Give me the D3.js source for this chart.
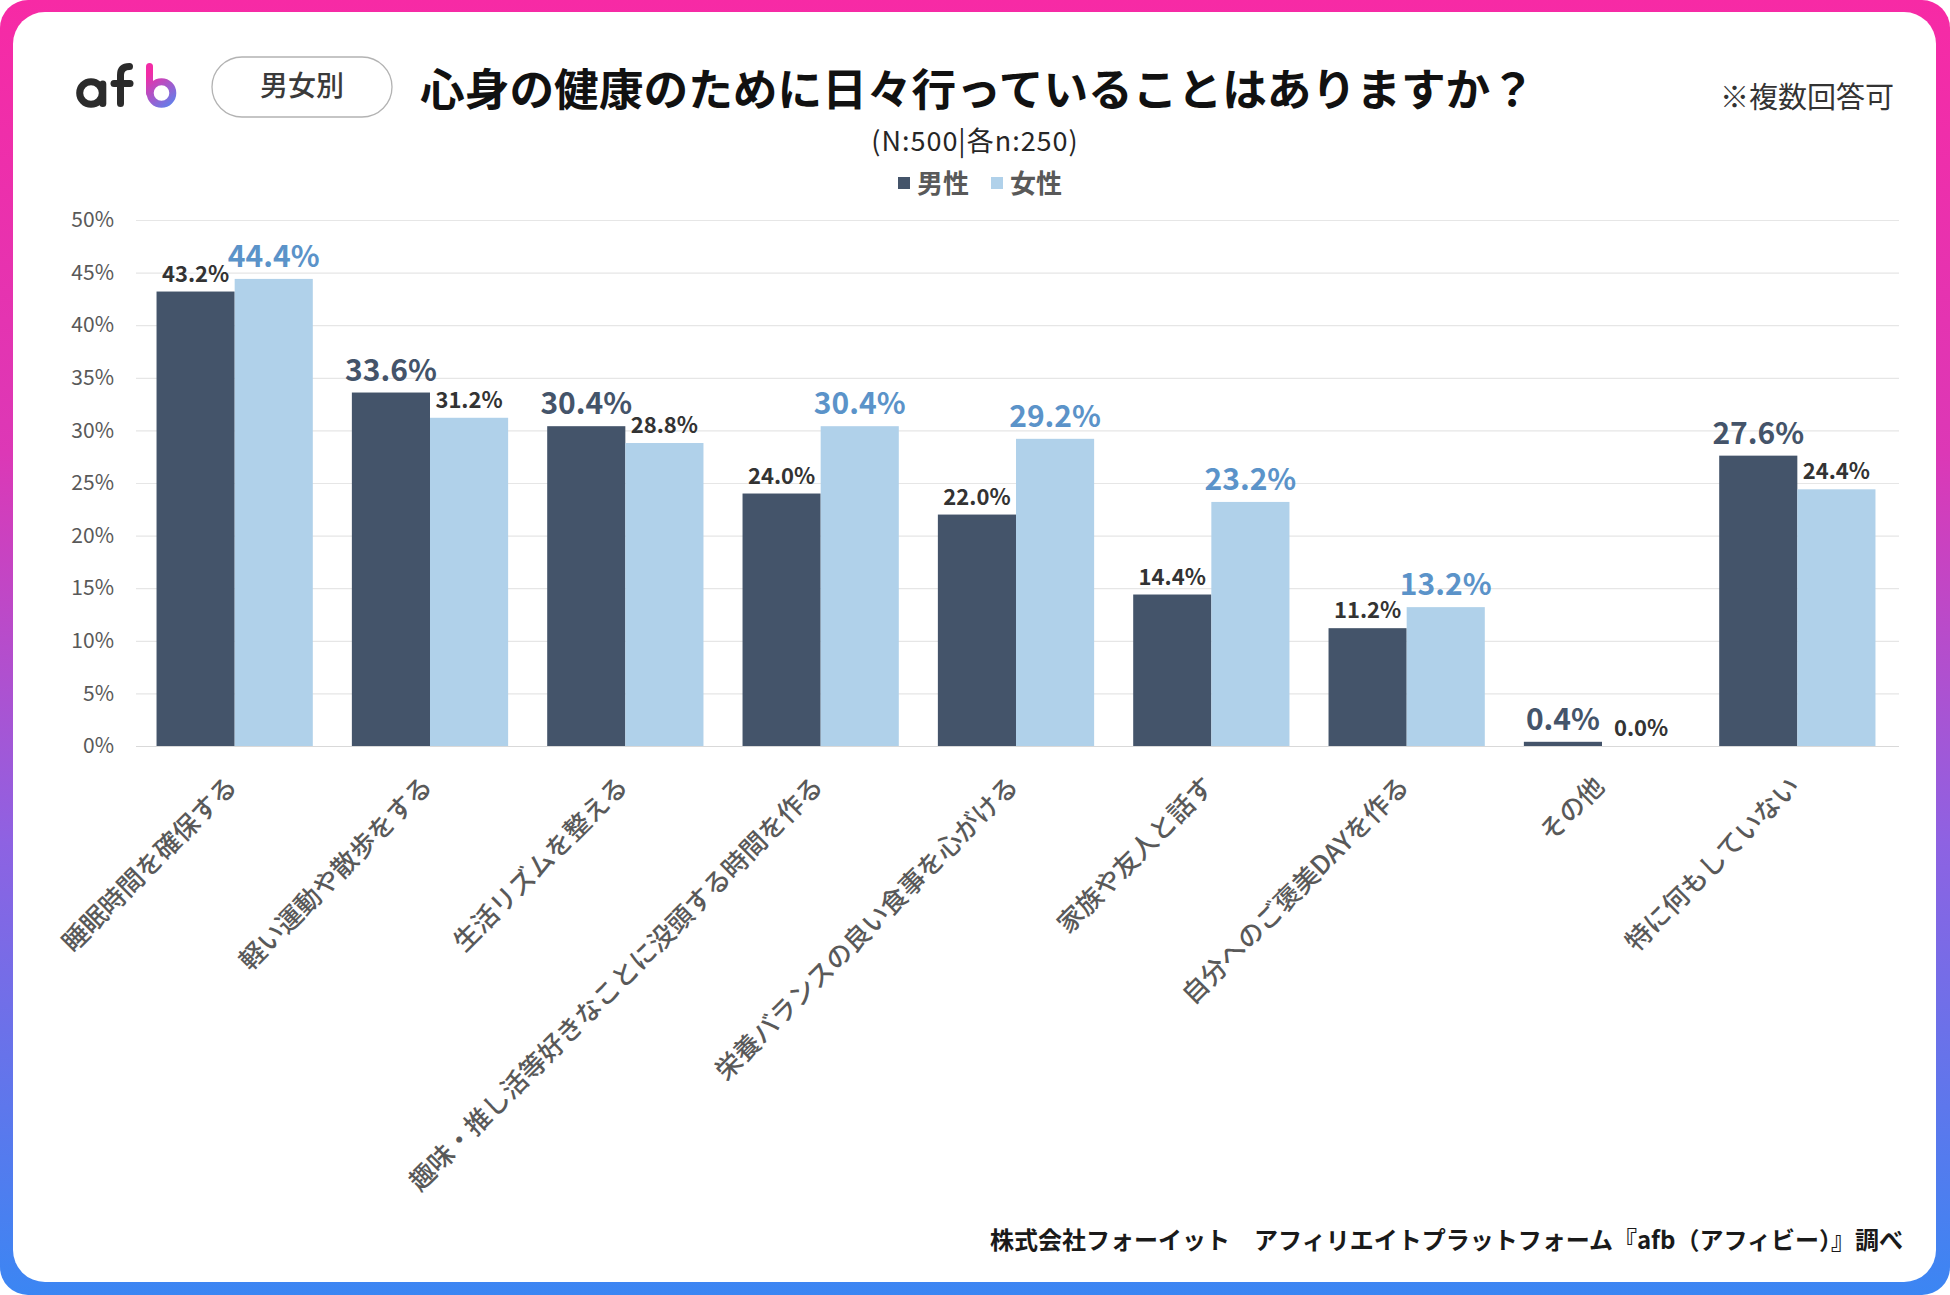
<!DOCTYPE html>
<html>
<head>
<meta charset="utf-8">
<script src="https://cdn.jsdelivr.net/npm/d3@7"></script>
<style>
  html, body { margin: 0; padding: 0; background: #fff; }
  svg { display: block; }
  text { font-family: "Noto Sans CJK JP", "Noto Sans", sans-serif; }
</style>
</head>
<body>
<div id="chart"></div>
<script>
// data
const categories = [
  "睡眠時間を確保する",
  "軽い運動や散歩をする",
  "生活リズムを整える",
  "趣味・推し活等好きなことに没頭する時間を作る",
  "栄養バランスの良い食事を心がける",
  "家族や友人と話す",
  "自分へのご褒美DAYを作る",
  "その他",
  "特に何もしていない",
];
const seriesNames = ["男性", "女性"];
const maleValues = [43.2, 33.6, 30.4, 24.0, 22.0, 14.4, 11.2, 0.4, 27.6];
const femaleValues = [44.4, 31.2, 28.8, 30.4, 29.2, 23.2, 13.2, 0.0, 24.4];
const yTicks = [0, 5, 10, 15, 20, 25, 30, 35, 40, 45, 50];

const W = 1950, H = 1295;
const barColors = ["#44546a", "#b0d1ea"];
const bigLabelColors = ["#44546a", "#5b93c9"];

const svg = d3.select("#chart").append("svg")
  .attr("width", W).attr("height", H);

const defs = svg.append("defs");
const frameGrad = defs.append("linearGradient")
  .attr("id", "frameGrad").attr("x1", 0).attr("y1", 0).attr("x2", 0).attr("y2", 1);
[[0, "#f72aa5"], [0.35, "#dc38b6"], [0.65, "#8e62e2"], [1, "#3b86f3"]].forEach(s =>
  frameGrad.append("stop").attr("offset", s[0]).attr("stop-color", s[1]));

const logoGrad = defs.append("linearGradient")
  .attr("id", "logoGrad").attr("gradientUnits", "userSpaceOnUse")
  .attr("x1", 145).attr("y1", 63).attr("x2", 179).attr("y2", 107);
logoGrad.append("stop").attr("offset", 0.2).attr("stop-color", "#f22ca6");
logoGrad.append("stop").attr("offset", 1).attr("stop-color", "#4b8df5");

// frame
svg.append("rect").attr("width", W).attr("height", H).attr("rx", 28)
  .attr("fill", "url(#frameGrad)");
svg.append("rect").attr("x", 13).attr("y", 12)
  .attr("width", W - 27).attr("height", H - 25).attr("rx", 32)
  .attr("fill", "#fff");

// logo "afb"
const logo = svg.append("g")
  .attr("fill", "none").attr("stroke-width", 7).attr("stroke-linecap", "round");
logo.append("circle").attr("cx", 91).attr("cy", 93).attr("r", 11.3).attr("stroke", "#2b2b2b");
logo.append("line").attr("x1", 102.8).attr("x2", 102.8).attr("y1", 84).attr("y2", 103.5).attr("stroke", "#2b2b2b");
logo.append("path").attr("d", "M120.5,103.5 L120.5,75 Q120.5,66.5 129.5,66.5").attr("stroke", "#2b2b2b");
logo.append("line").attr("x1", 114).attr("x2", 130).attr("y1", 83.5).attr("y2", 83.5).attr("stroke", "#2b2b2b");
logo.append("line").attr("x1", 149.5).attr("x2", 149.5).attr("y1", 66.5).attr("y2", 93).attr("stroke", "url(#logoGrad)");
logo.append("circle").attr("cx", 161.5).attr("cy", 93).attr("r", 11.3).attr("stroke", "url(#logoGrad)");

// pill
svg.append("rect").attr("x", 212).attr("y", 57).attr("width", 180).attr("height", 60)
  .attr("rx", 30).attr("fill", "#fff").attr("stroke", "#b3b3b3").attr("stroke-width", 1.3);
svg.append("text").attr("x", 302).attr("y", 96).attr("text-anchor", "middle")
  .attr("font-size", 28).attr("font-weight", 500).attr("fill", "#3a3a3a").text("男女別");

// title
svg.append("text").attr("x", 420).attr("y", 106)
  .attr("font-size", 44.7).attr("font-weight", 700).attr("fill", "#111")
  .text("心身の健康のために日々行っていることはありますか？");
svg.append("text").attr("x", 1894).attr("y", 108).attr("text-anchor", "end")
  .attr("font-size", 29).attr("fill", "#333").text("※複数回答可");

svg.append("text").attr("x", 975).attr("y", 151).attr("text-anchor", "middle")
  .attr("font-size", 27).attr("letter-spacing", 1).attr("fill", "#262626").text("(N:500|各n:250)");

// legend
const legendX = [898, 991];
const legend = svg.append("g").selectAll("g").data(seriesNames).join("g")
  .attr("transform", (d, i) => "translate(" + legendX[i] + ",183)");
legend.append("rect").attr("x", 0).attr("y", -6).attr("width", 12).attr("height", 12)
  .attr("fill", (d, i) => barColors[i]);
legend.append("text").attr("x", 19).attr("y", 9.5)
  .attr("font-size", 26).attr("font-weight", 700).attr("fill", "#595959").text(d => d);

// scales
const x0 = d3.scaleBand().domain(categories).range([137, 1895])
  .paddingInner(0.2).paddingOuter(0.1);
const x1 = d3.scaleBand().domain(seriesNames).range([0, x0.bandwidth()]);
const y = d3.scaleLinear().domain([0, 50]).range([746, 220]);

// grid + y axis
const yAxis = svg.append("g").attr("transform", "translate(136,0)")
  .call(d3.axisLeft(y).tickValues(yTicks).tickSize(-(1899 - 136)).tickPadding(22)
    .tickFormat(d => d + "%"));
yAxis.select(".domain").remove();
yAxis.selectAll(".tick line").attr("stroke", "#e6e6e6").attr("stroke-width", 1.2);
yAxis.selectAll(".tick text").attr("font-size", 21).attr("fill", "#595959")
  .attr("font-family", "\"Noto Sans CJK JP\", sans-serif");
yAxis.select(".tick line").attr("stroke", "#d9d9d9");

// bars
const rows = categories.map((c, i) => ({ cat: c, vals: [maleValues[i], femaleValues[i]] }));
const group = svg.append("g").selectAll("g").data(rows).join("g")
  .attr("transform", d => "translate(" + x0(d.cat) + ",0)");

const cells = group.selectAll("g").data(d => d.vals.map((v, i) => ({
  name: seriesNames[i], idx: i, v: v, big: v > d.vals[1 - i],
}))).join("g");

cells.append("rect")
  .attr("x", d => x1(d.name))
  .attr("y", d => y(d.v))
  .attr("width", x1.bandwidth())
  .attr("height", d => y(0) - y(d.v))
  .attr("fill", d => barColors[d.idx]);

cells.append("text")
  .attr("x", d => x1(d.name) + x1.bandwidth() / 2)
  .attr("y", d => y(d.v) - (d.big ? 12 : 10))
  .attr("text-anchor", "middle")
  .attr("font-weight", 700)
  .attr("font-size", d => d.big ? 30 : 22)
  .attr("fill", d => d.big ? bigLabelColors[d.idx] : "#333")
  .text(d => d.v.toFixed(1) + "%");

// category labels
svg.append("g").selectAll("text").data(categories).join("text")
  .attr("transform", d => "translate(" + (x0(d) + x0.bandwidth() / 2 + 4) + ",788) rotate(-45)")
  .attr("text-anchor", "end")
  .attr("font-size", 26).attr("font-weight", 500).attr("fill", "#595959")
  .text(d => d);

// footer
svg.append("text").attr("x", 1903).attr("y", 1249).attr("text-anchor", "end")
  .attr("font-size", 24).attr("font-weight", 700).attr("fill", "#1a1a1a")
  .text("株式会社フォーイット　アフィリエイトプラットフォーム『afb（アフィビー）』調べ");
</script>
</body>
</html>
